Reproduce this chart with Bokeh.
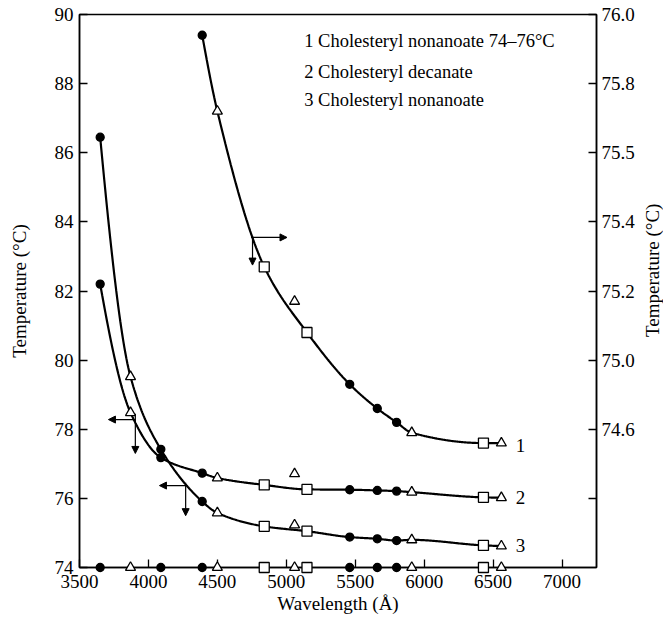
import numpy as np
from bokeh.plotting import figure
from bokeh.layouts import row
from bokeh.models import Range1d, LinearAxis, FixedTicker, Arrow, NormalHead, Label
from bokeh.embed import file_html
from bokeh.resources import INLINE

# ---------------- data ----------------
wavelengths = [3650, 3870, 4090, 4390, 4500, 4840, 5060, 5150, 5460, 5660, 5800, 5910, 6430, 6560]
marker_kinds = ["dot", "tri", "dot", "dot", "tri", "sq", "tri", "sq", "dot", "dot", "dot", "tri", "sq", "tri"]

nan = float("nan")
# curve 1: cholesteryl nonanoate 74-76 C (right axis)
curve1_temp = [nan, nan, nan, 75.94, 75.72, 75.27, 75.17, 75.08, 74.93, 74.86, 74.82, 74.79, 74.76, 74.76]
curve1_on_line = [0, 0, 0, 1, 1, 1, 0, 1, 1, 1, 1, 1, 1, 1]
# curve 2: cholesteryl decanate (left axis)
curve2_temp = [82.2, 78.48, 77.18, 76.73, 76.59, 76.39, 76.71, 76.26, 76.25, 76.23, 76.21, 76.18, 76.03, 76.02]
curve2_on_line = [1, 1, 1, 1, 1, 1, 0, 1, 1, 1, 1, 1, 1, 1]
# curve 3: cholesteryl nonanoate (left axis)
curve3_temp = [86.45, 79.52, 77.42, 75.91, 75.58, 75.19, 75.23, 75.05, 74.88, 74.83, 74.78, 74.80, 74.64, 74.62]
curve3_on_line = [1, 1, 1, 1, 1, 1, 0, 1, 1, 1, 1, 1, 1, 1]

left_ticks = [74, 76, 78, 80, 82, 84, 86, 88, 90]
right_ticks = [76.0, 75.8, 75.6, 75.4, 75.2, 75.0, 74.8, 74.6]
right_tick_labels = ["76.0", "75.8", "75.5", "75.4", "75.2", "75.0", "74.6", ""]
x_ticks = [3500, 4000, 4500, 5000, 5500, 6000, 6500, 7000]

legend_lines = ["1 Cholesteryl nonanoate 74\u201376\u00b0C", "2 Cholesteryl decanate", "3 Cholesteryl nonanoate"]
axis_title_y = "Temperature (\u00b0C)"

FONT = "Liberation Serif"
FS = "19px"


def pchip(x, y, xs):
    x = np.asarray(x, float)
    y = np.asarray(y, float)
    h = np.diff(x)
    d = np.diff(y) / h
    n = len(x)
    m = np.zeros(n)
    for k in range(1, n - 1):
        if d[k - 1] * d[k] > 0:
            w1 = 2 * h[k] + h[k - 1]
            w2 = h[k] + 2 * h[k - 1]
            m[k] = (w1 + w2) / (w1 / d[k - 1] + w2 / d[k])

    def end(h0, h1, d0, d1):
        mm = ((2 * h0 + h1) * d0 - h0 * d1) / (h0 + h1)
        if np.sign(mm) != np.sign(d0):
            mm = 0.0
        elif np.sign(d0) != np.sign(d1) and abs(mm) > abs(3 * d0):
            mm = 3 * d0
        return mm

    m[0] = end(h[0], h[1], d[0], d[1])
    m[-1] = end(h[-1], h[-2], d[-1], d[-2])
    idx = np.clip(np.searchsorted(x, xs) - 1, 0, n - 2)
    t = (xs - x[idx]) / h[idx]
    h00 = 2 * t**3 - 3 * t**2 + 1
    h10 = t**3 - 2 * t**2 + t
    h01 = -2 * t**3 + 3 * t**2
    h11 = t**3 - t**2
    return h00 * y[idx] + h10 * h[idx] * m[idx] + h01 * y[idx + 1] + h11 * h[idx] * m[idx + 1]


p = figure(width=640, height=626, x_range=Range1d(3500, 7250), y_range=Range1d(74, 90),
           output_backend="svg", toolbar_location=None,
           min_border_left=79, min_border_right=44, min_border_top=14, min_border_bottom=59)
p.extra_y_ranges = {"right": Range1d(74.4, 76.0)}
p.grid.visible = False
p.outline_line_color = "black"
p.outline_line_width = 1.5
p.background_fill_color = "white"
p.border_fill_color = "white"


def style_axis(ax):
    ax.axis_line_width = 1.5
    ax.major_tick_in = 8
    ax.major_tick_out = 0
    ax.major_tick_line_width = 1.3
    ax.minor_tick_in = 0
    ax.minor_tick_out = 0
    ax.major_label_text_font = FONT
    ax.major_label_text_font_size = FS
    ax.major_label_text_color = "black"
    ax.axis_label_text_font = FONT
    ax.axis_label_text_font_size = FS
    ax.axis_label_text_font_style = "normal"
    ax.axis_label_text_color = "black"


xa = p.xaxis[0]
style_axis(xa)
xa.ticker = FixedTicker(ticks=x_ticks)
xa.axis_label = "Wavelength (\u00c5)"
xa.major_label_standoff = 7
xa.axis_label_standoff = 2

ya = p.yaxis[0]
style_axis(ya)
ya.ticker = FixedTicker(ticks=left_ticks)
ya.axis_label = axis_title_y
ya.major_label_standoff = 6
ya.axis_label_standoff = 22

ra = LinearAxis(y_range_name="right", ticker=FixedTicker(ticks=right_ticks),
                major_label_overrides={t: s for t, s in zip(right_ticks, right_tick_labels)})
style_axis(ra)
ra.major_label_standoff = 5
p.add_layout(ra, "right")

wl = np.array(wavelengths, float)
kinds = np.array(marker_kinds)


def draw_markers(xv, yv, kv, kw):
    for kind, mk, size, fill in [("dot", "circle", 8, "black"), ("tri", "triangle", 10, "white"),
                                 ("sq", "square", 10, "white")]:
        s = kv == kind
        if s.any():
            p.scatter(xv[s], yv[s], marker=mk, size=size, fill_color=fill, line_color="black",
                      line_width=1.3, level="overlay", **kw)


def draw_curve(temps, on_line, range_name):
    t = np.array(temps, float)
    ok = ~np.isnan(t)
    sel = ok & (np.array(on_line) == 1)
    xs = np.linspace(wl[sel][0], wl[sel][-1], 400)
    ys = pchip(wl[sel], t[sel], xs)
    kw = {} if range_name is None else {"y_range_name": range_name}
    p.line(xs, ys, line_color="black", line_width=2.2, **kw)
    draw_markers(wl[ok], t[ok], kinds[ok], kw)


draw_curve(curve1_temp, curve1_on_line, "right")
draw_curve(curve2_temp, curve2_on_line, None)
draw_curve(curve3_temp, curve3_on_line, None)

# wavelength reference markers along the axis
draw_markers(wl, np.full(len(wl), 74.0), kinds, {})


# axis-indicator arrows
def arrow(x0, y0, x1, y1):
    p.add_layout(Arrow(end=NormalHead(size=7, fill_color="black", line_color="black"),
                       x_start=x0, y_start=y0, x_end=x1, y_end=y1,
                       line_color="black", line_width=1.2))


arrow(3905, 78.28, 3710, 78.28)
arrow(3905, 78.45, 3905, 77.3)
arrow(4270, 76.37, 4080, 76.37)
arrow(4270, 76.45, 4270, 75.5)
arrow(4745, 83.55, 5005, 83.55)
arrow(4755, 83.6, 4755, 82.75)

# curve numbers
for txt, yv in zip(["1", "2", "3"], [77.53, 76.02, 74.64]):
    p.add_layout(Label(x=6665, y=yv, text=txt, text_font=FONT, text_font_size=FS,
                       text_baseline="middle", text_align="left", text_color="black"))

# legend text
for txt, yv in zip(legend_lines, [89.22, 88.35, 87.54]):
    p.add_layout(Label(x=5130, y=yv, text=txt, text_font=FONT, text_font_size="18.5px",
                       text_baseline="middle", text_align="left", text_color="black"))

# narrow companion strip carrying the right-hand axis title (reads bottom to top)
side = figure(width=23, height=626, x_range=Range1d(0, 1), y_range=Range1d(74, 90),
              output_backend="svg", toolbar_location=None,
              min_border_left=0, min_border_right=0, min_border_top=14, min_border_bottom=59)
side.axis.visible = False
side.grid.visible = False
side.outline_line_color = None
side.background_fill_color = "white"
side.border_fill_color = "white"
side.add_layout(Label(x=0.5, y=82.6, text=axis_title_y, angle=np.pi / 2,
                      text_font=FONT, text_font_size=FS, text_align="center",
                      text_baseline="middle", text_color="black"))

layout = row(p, side)
open("out.html", "w").write(file_html(layout, INLINE))
